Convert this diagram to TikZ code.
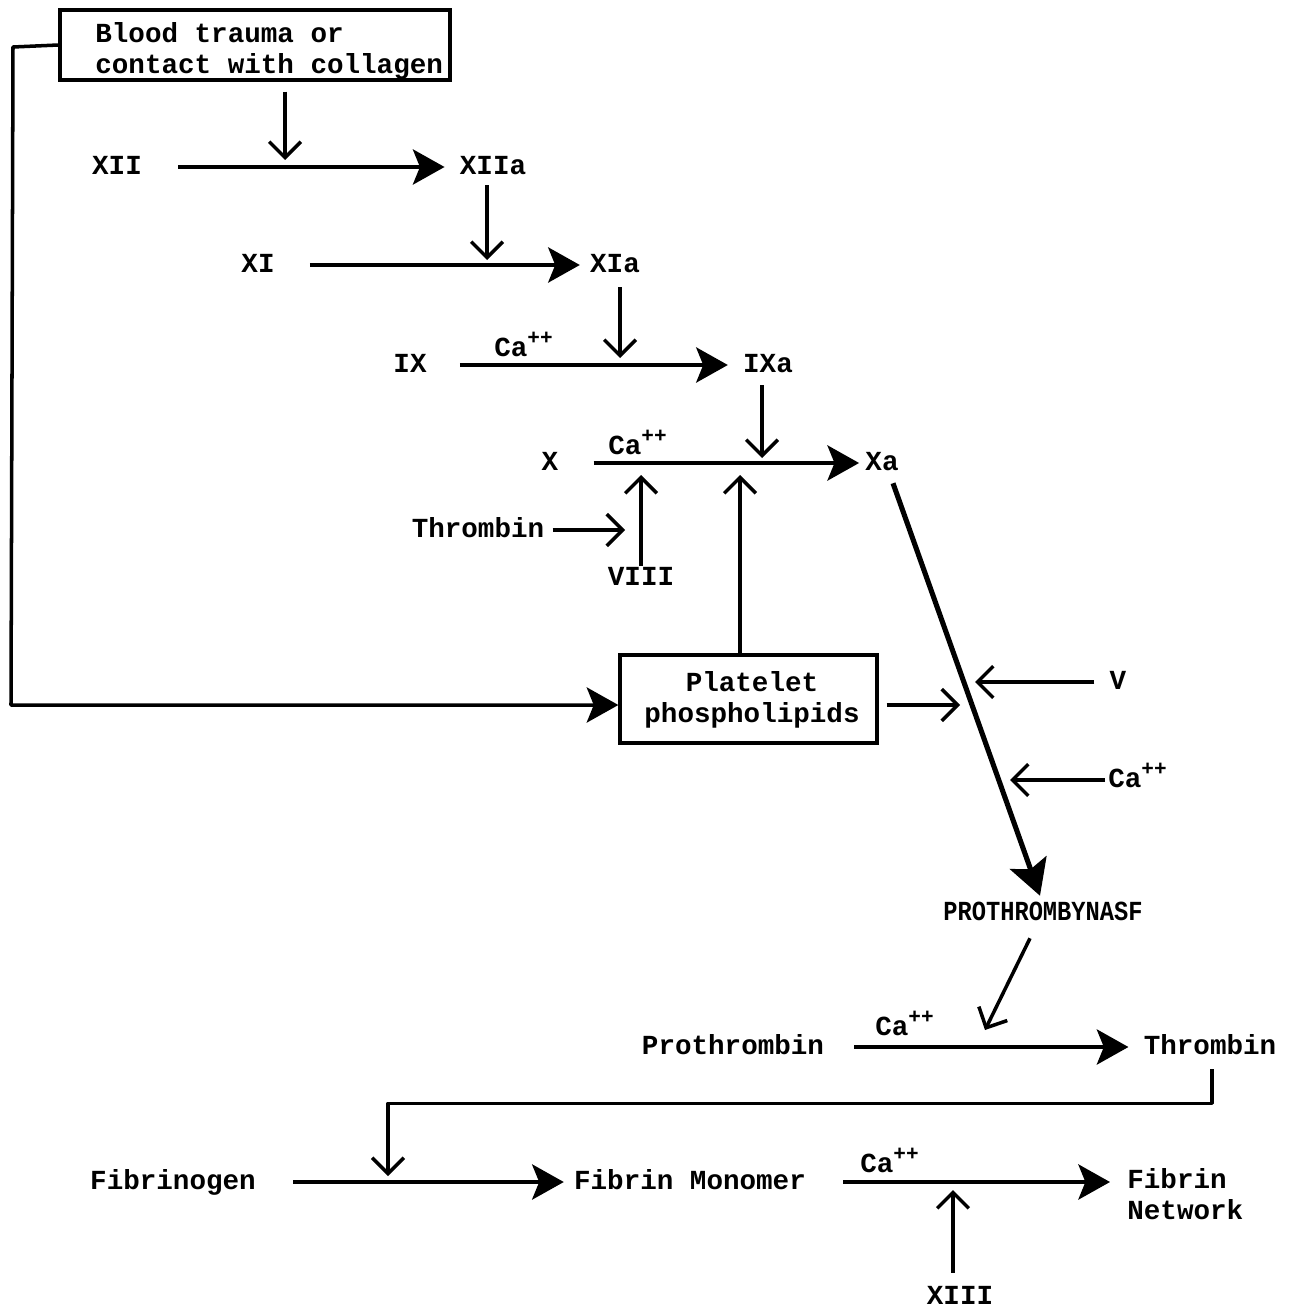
\documentclass[tikz,border=0pt]{standalone}
\usepackage{fontspec}
\setmainfont{Liberation Mono}
\newfontfamily\condmono{Liberation Mono}[FakeStretch=0.86]
\usetikzlibrary{arrows.meta,calc}
\newcommand{\capp}{Ca\raisebox{7pt}{\fontsize{12}{12}\selectfont ++}}
\begin{document}
\begin{tikzpicture}[x=0.02cm,y=-0.02cm,
  txt/.style={font=\fontsize{15.7}{18}\selectfont\bfseries, inner sep=0pt, text height=9pt, text depth=0pt},
  mtxt/.style={font=\fontsize{15.7}{18}\selectfont\bfseries, inner sep=0pt},
  main/.style={line width=2.3pt, -{Stealth[length=18pt,width=20pt,inset=4pt]}},
  thinarr/.style={line width=2pt, -{Straight Barb[length=9pt,width=18pt]}},
  frame/.style={draw, line width=1.9pt, inner sep=0pt}
]
\useasboundingbox (0,0) rectangle (1289,1311);

% nodes
\node[frame, minimum width=7.8cm, minimum height=1.4cm] (box1) at (255,45) {};
\node[mtxt, align=left, anchor=west] (box1t) at (95,51) {Blood trauma or\\contact with collagen};
\node[txt] (xii) at (117,167) {XII};
\node[txt] (xiia) at (493,167) {XIIa};
\node[txt] (xi) at (258,265) {XI};
\node[txt] (xia) at (615,265) {XIa};
\node[txt] (ix) at (410,365) {IX};
\node[txt] (ixa) at (768,365) {IXa};
\node[txt] (fx) at (550,463) {X};
\node[txt] (xa) at (882,463) {Xa};
\node[txt] (thr1) at (478,530) {Thrombin};
\node[txt] (viii) at (641,578) {VIII};
\node[frame, minimum width=5.14cm, minimum height=1.76cm] (pp) at (748.5,699) {};
\node[mtxt, align=center] (ppt) at (752,700) {Platelet\\phospholipids};
\node[txt] (v) at (1118,682) {V};
\node[txt, font=\fontsize{15.7}{18}\selectfont\condmono\bfseries] (prase) at (1043,913) {PROTHROMBYNASF};
\node[txt] (proth) at (733,1047) {Prothrombin};
\node[txt] (thr2) at (1210,1047) {Thrombin};
\node[txt] (fibg) at (173,1182) {Fibrinogen};
\node[txt] (fibm) at (690,1182) {Fibrin Monomer};
\node[mtxt, align=left, anchor=west] (fibn) at (1127,1194) {Fibrin\\Network};
\node[txt] (xiii) at (960,1297) {XIII};

% Ca++ labels
\node[txt, anchor=west] (ca1) at (494,349) {\capp};
\node[txt, anchor=west] (ca2) at (608,447) {\capp};
\node[txt, anchor=west] (ca3) at (1108,780) {\capp};
\node[txt, anchor=west] (ca4) at (875,1028) {\capp};
\node[txt, anchor=west] (ca5) at (860,1165) {\capp};

% coordinates on the reaction lines
\coordinate (c1) at (285,167);
\coordinate (c2) at (487,265);
\coordinate (c3) at (620,365);
\coordinate (c4) at (762,463);
\coordinate (c5) at (641,530);
\coordinate (c6) at (641,463);
\coordinate (c7) at (740,463);
\coordinate (t1) at (975,682);
\coordinate (t2) at (960,705);
\coordinate (t3) at (1010,780);
\coordinate (c9) at (985,1030);
\coordinate (c10) at (388,1182);
\coordinate (c11) at (953,1182);
\coordinate (k1) at (13,47);
\coordinate (k2) at (11,705);

% cascade
\draw[thinarr] ($(box1.south -| c1)+(0,10)$) -- ($(c1)+(0,-7)$);
\draw[main] ($(xii.east)+(36,0)$) -- ($(xiia.west)+(-15,0)$);
\draw[thinarr] ($(xiia.south -| c2)+(0,10)$) -- ($(c2)+(0,-5)$);
\draw[main] ($(xi.east)+(35,0)$) -- ($(xia.west)+(-10,0)$);
\draw[thinarr] ($(xia.south -| c3)+(0,14)$) -- ($(c3)+(0,-7)$);
\draw[main] ($(ix.east)+(33,0)$) -- ($(ixa.west)+(-15,0)$);
\draw[thinarr] ($(ixa.south -| c4)+(0,12)$) -- ($(c4)+(0,-5)$);
\draw[main] ($(fx.east)+(35,0)$) -- ($(xa.west)+(-6,0)$);
\draw[thinarr] ($(thr1.east)+(8,0)$) -- ($(c5)+(-16,0)$);
\draw[thinarr] ($(viii.north)+(0,-4)$) -- ($(c6)+(0,12)$);
\draw[thinarr] (pp.north -| c7) -- ($(c7)+(0,12)$);

% feedback from trauma box to platelet phospholipids
\draw[line width=2pt, line join=round, -{Stealth[length=18pt,width=20pt,inset=4pt]}]
  (box1.west) -- (k1) -- (k2) -- (pp.west |- k2);

% prothrombinase formation
\draw[line width=2.9pt, -{Stealth[length=20pt,width=22pt,inset=4pt]}]
  ($(xa.south)+(11,12)$) -- ($(prase.north)+(-3,-9)$);
\draw[thinarr] ($(pp.east |- t2)+(8,0)$) -- (t2);
\draw[thinarr] ($(v.west)+(-15,0)$) -- (t1);
\draw[thinarr] ($(ca3.west)+(-3,0)$) -- (t3);
\draw[thinarr] ($(prase.south)+(-13,17)$) -- (c9);

% thrombin formation
\draw[main] ($(proth.east)+(30,0)$) -- ($(thr2.west)+(-15,0)$);
\draw[thinarr, line join=round] ($(thr2.south)+(2,14)$) -- ++(0,34) -| ($(c10)+(0,-6)$);

% fibrin formation
\draw[main] ($(fibg.east)+(37,0)$) -- ($(fibm.west)+(-10,0)$);
\draw[main] ($(fibm.east)+(37,0)$) -- ($(fibn.west |- fibm)+(-17,0)$);
\draw[thinarr] ($(xiii.north -| c11)+(0,-16)$) -- ($(c11)+(0,8)$);
\end{tikzpicture}
\end{document}
